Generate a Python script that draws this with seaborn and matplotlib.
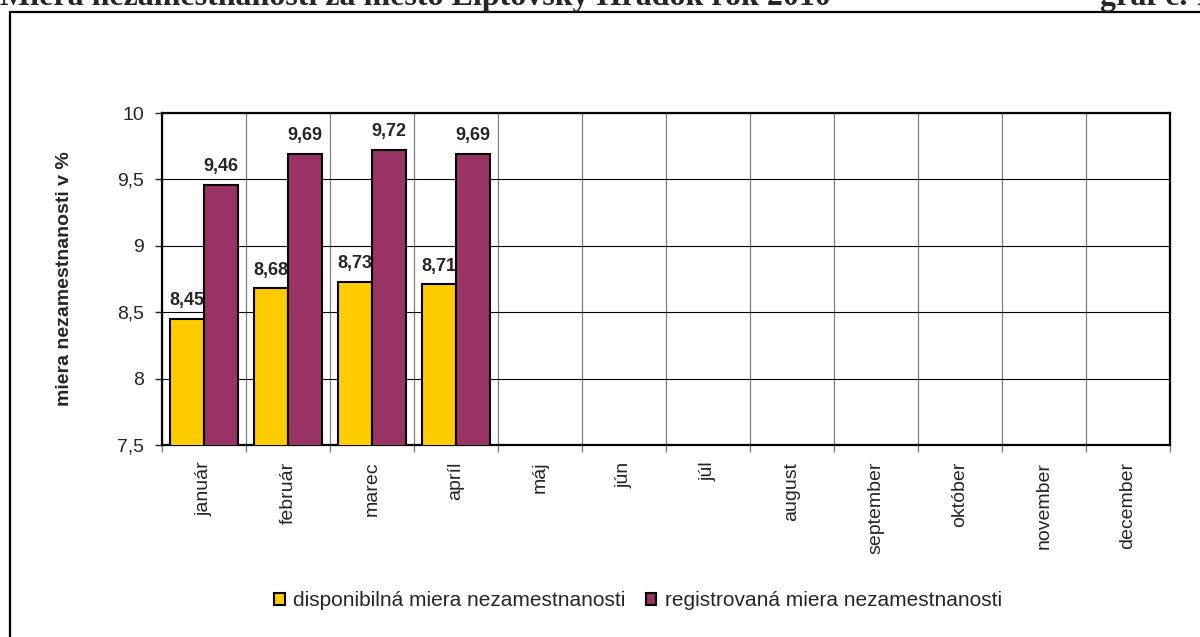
import matplotlib
matplotlib.use("Agg")
import matplotlib.pyplot as plt
from matplotlib.patches import Rectangle, Patch
from matplotlib.ticker import FixedLocator
import seaborn as sns
import pandas as pd
import numpy as np

# data (only january - april 2010 filled in)
months = ['január', 'február', 'marec', 'apríl', 'máj', 'jún', 'júl',
          'august', 'september', 'október', 'november', 'december']
disponibilna = [8.45, 8.68, 8.73, 8.71] + [np.nan] * 8
registrovana = [9.46, 9.69, 9.72, 9.69] + [np.nan] * 8
series_names = ['disponibilná miera nezamestnanosti',
                'registrovaná miera nezamestnanosti']
colors = ['#FFCC00', '#993366']

df = pd.DataFrame({
    'mesiac': months * 2,
    'rada': [series_names[0]] * 12 + [series_names[1]] * 12,
    'hodnota': disponibilna + registrovana,
})

sns.set_style('white')
plt.rcParams['font.family'] = ['Liberation Sans', 'DejaVu Sans']

fig = plt.figure(figsize=(12, 6.37), dpi=100)
ax = fig.add_axes([162 / 1200, 1 - 445 / 637, 1008 / 1200, 332 / 637])

sns.barplot(data=df, x='mesiac', y='hodnota', hue='rada', order=months,
            hue_order=series_names, palette=colors, width=0.81, gap=0,
            edgecolor='black', linewidth=1.5, saturation=1, ax=ax,
            legend=False, zorder=3)

# value labels on the bars that exist
for cont in ax.containers:
    for bar in cont:
        if bar is None:
            continue
        h = bar.get_height()
        if np.isnan(h):
            continue
        ax.annotate(f'{h:.2f}'.replace('.', ','),
                    (bar.get_x() + bar.get_width() / 2, h),
                    xytext=(0, 7), textcoords='offset points',
                    ha='center', va='bottom', fontsize=13,
                    fontweight='bold', zorder=4)

ax.set_ylim(7.5, 10)
ax.set_xlim(-0.5, 11.5)
yt = [7.5, 8, 8.5, 9, 9.5, 10]
ax.set_yticks(yt)
ax.set_yticklabels([f'{t:g}'.replace('.', ',') for t in yt], fontsize=14)
ax.tick_params(axis='y', direction='out', length=5, width=1, pad=8, left=True)

ax.set_xticks(range(12))
ax.set_xticklabels(months, rotation=90, fontsize=14, va='top')
ax.tick_params(axis='x', which='major', length=0, pad=12)
ax.xaxis.set_minor_locator(FixedLocator(np.arange(-0.5, 12, 1)))
ax.tick_params(axis='x', which='minor', direction='out', length=5,
               width=1, bottom=True, color='#808080')

ax.grid(axis='y', which='major', color='black', linewidth=0.8, zorder=0)
ax.grid(axis='x', which='minor', color='#808080', linewidth=0.9, zorder=0)
ax.set_axisbelow(True)

for sp in ax.spines.values():
    sp.set_visible(True)
    sp.set_color('black')
    sp.set_linewidth(1.6)

ax.set_xlabel('')
ax.set_ylabel('miera nezamestnanosti v %', fontsize=14, fontweight='bold')
ax.yaxis.set_label_coords(-0.088, 0.5)

handles = [Patch(facecolor=c, edgecolor='black', linewidth=1.5) for c in colors]
fig.legend(handles, series_names, loc='center',
           bbox_to_anchor=(638 / 1200, 1 - 601 / 637),
           ncol=2, frameon=False, fontsize=15, handlelength=0.5,
           handleheight=0.5, handletextpad=0.4, columnspacing=1.0)

# outer frame of the chart object (cut by the page edge)
fig.patches.append(Rectangle((10 / 1200, -0.1), 1.2, 1.1 - 12 / 637,
                             transform=fig.transFigure, fill=False,
                             edgecolor='black', linewidth=1.6, clip_on=False))

# page heading, mostly cut off at the top
fig.text(0, 1 - 5 / 637, 'Miera nezamestnanosti za mesto Liptovský Hrádok rok 2010',
         family=['Liberation Serif', 'DejaVu Serif'], fontweight='bold',
         fontsize=23, ha='left', va='baseline')
fig.text(1100 / 1200, 1 - 5 / 637, 'graf č. 1',
         family=['Liberation Serif', 'DejaVu Serif'], fontweight='bold',
         fontsize=23, ha='left', va='baseline')

fig.savefig('out.png', dpi=100)
